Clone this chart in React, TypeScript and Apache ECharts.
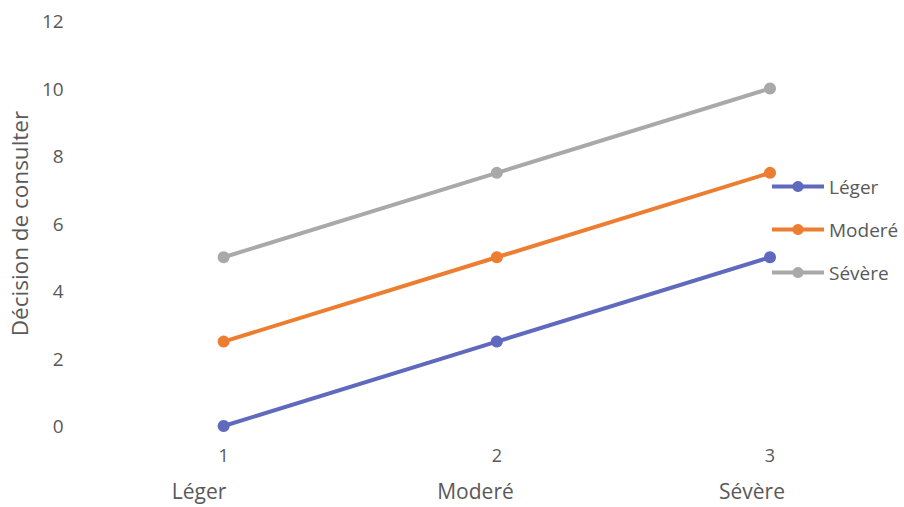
import React, { useEffect, useRef } from "react";
import * as echarts from "echarts";

const levels = ["1", "2", "3"];
const levelNames = ["Léger", "Moderé", "Sévère"];
const seriesNames = ["Léger", "Moderé", "Sévère"];
const leger = [0, 2.5, 5];
const modere = [2.5, 5, 7.5];
const severe = [5, 7.5, 10];
const colors = ["#5f69bd", "#ed7d31", "#a9a9a9"];

const FONT = "'Open Sans', 'Noto Sans', sans-serif";
const TEXT = "#595959";

export default function App() {
  const ref = useRef<HTMLDivElement>(null);

  useEffect(() => {
    if (!ref.current) return;
    const chart = echarts.init(ref.current, undefined, { renderer: "svg" });
    const values = [leger, modere, severe];
    chart.setOption({
      animation: false,
      backgroundColor: "#ffffff",
      textStyle: { fontFamily: FONT },
      grid: [
        { left: 217, right: 134, top: 21, bottom: 81 },
        // second row of category names sits slightly left of the numeric ticks
        { left: 199, right: 152, top: 21, bottom: 81 },
      ],
      legend: {
        orient: "vertical",
        left: 765,
        top: 172,
        itemWidth: 52,
        itemHeight: 14,
        itemGap: 24,
        lineStyle: { width: 4 },
        textStyle: { color: TEXT, fontSize: 19, fontFamily: FONT },
        data: seriesNames,
      },
      xAxis: [
        {
          type: "category",
          gridIndex: 0,
          data: levels,
          boundaryGap: false,
          axisLine: { show: false },
          axisTick: { show: false },
          axisLabel: { color: TEXT, fontSize: 18, margin: 20 },
        },
        {
          type: "category",
          gridIndex: 1,
          data: levelNames,
          boundaryGap: false,
          position: "bottom",
          offset: 35,
          axisLine: { show: false },
          axisTick: { show: false },
          axisLabel: { color: TEXT, fontSize: 21, margin: 19 },
        },
      ],
      yAxis: [
        {
          type: "value",
          gridIndex: 0,
          min: 0,
          max: 12,
          interval: 2,
          splitLine: { show: false },
          axisLine: { show: false },
          axisTick: { show: false },
          axisLabel: { color: TEXT, fontSize: 19, margin: 160 },
          name: "Décision de consulter",
          nameLocation: "middle",
          nameGap: 178,
          nameTextStyle: { color: TEXT, fontSize: 22.5 },
        },
        {
          type: "value",
          gridIndex: 1,
          show: false,
          min: 0,
          max: 12,
          interval: 2,
          splitLine: { show: false },
        },
      ],
      series: seriesNames.map((name, i) => ({
        name,
        type: "line",
        xAxisIndex: 0,
        yAxisIndex: 0,
        data: values[i],
        symbol: "circle",
        symbolSize: 12,
        lineStyle: { width: 4, color: colors[i] },
        itemStyle: { color: colors[i] },
      })),
    });
    return () => chart.dispose();
  }, []);

  return (
    <div
      ref={ref}
      style={{ position: "fixed", left: 0, top: 0, width: 904, height: 507 }}
    />
  );
}
